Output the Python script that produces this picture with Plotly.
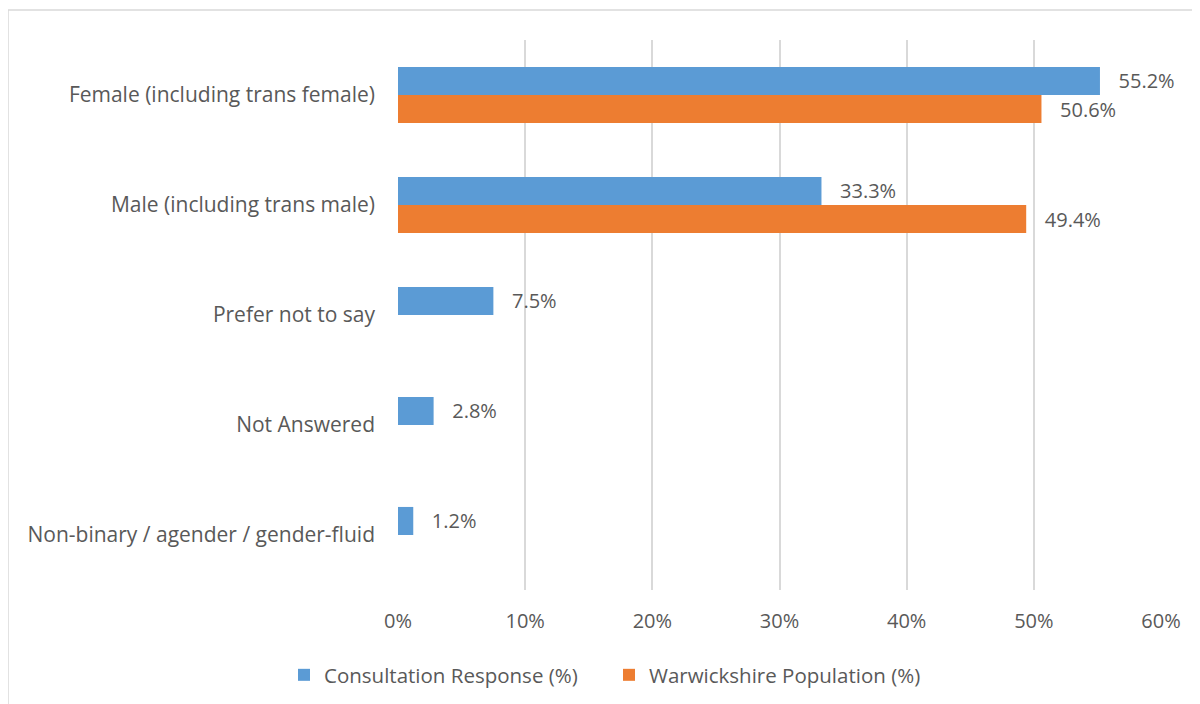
import plotly.graph_objects as go

categories = ["Female (including trans female)", "Male (including trans male)",
              "Prefer not to say", "Not Answered", "Non-binary / agender / gender-fluid"]
consultation = [55.2, 33.3, 7.5, 2.8, 1.2]
population = [50.6, 49.4, None, None, None]
series_names = ["Consultation Response (%)", "Warwickshire Population (%)"]
tick_vals = [0, 10, 20, 30, 40, 50, 60]
tick_text = ["0%", "10%", "20%", "30%", "40%", "50%", "60%"]

FONT = "'Open Sans', sans-serif"
GREY = "#595959"
NB = "\u00a0\u00a0\u00a0"
OFF = 8  # page body margin

fig = go.Figure()
fig.add_trace(go.Bar(
    y=categories, x=consultation, orientation="h", name=series_names[0],
    marker=dict(color="#5b9bd5", line=dict(width=0)),
    text=[f"{NB}{v:.1f}%" for v in consultation], textposition="outside",
    textfont=dict(size=20, color=GREY, family=FONT), cliponaxis=False,
    constraintext="none", hoverinfo="x+y"))
fig.add_trace(go.Bar(
    y=categories, x=population, orientation="h", name=series_names[1],
    marker=dict(color="#ed7d31", line=dict(width=0)),
    text=[f"{NB}{v:.1f}%" if v is not None else "" for v in population], textposition="outside",
    textfont=dict(size=20, color=GREY, family=FONT), cliponaxis=False,
    constraintext="none", hoverinfo="x+y"))

W, H = 1200, 704
plot_l, plot_r, plot_t, plot_b = 398 - OFF, 1161 - OFF, 40 - OFF, 590 - OFF
pw, ph = plot_r - plot_l, plot_b - plot_t

def px_x(x):
    return (x - OFF - plot_l) / pw

def px_y(y):
    return (plot_b - (y - OFF)) / ph

fig.update_layout(
    width=W, height=H,
    margin=dict(l=plot_l, r=W - plot_r, t=plot_t, b=H - plot_b, autoexpand=False),
    paper_bgcolor="white", plot_bgcolor="white",
    barmode="group", bargap=0.49, bargroupgap=0,
    font=dict(family=FONT, color=GREY, size=20),
    xaxis=dict(range=[0, 60], tickvals=tick_vals, ticktext=tick_text,
               showgrid=True, gridcolor="#d9d9d9", gridwidth=1.5,
               zeroline=False, showline=False, ticks="",
               tickfont=dict(size=20, color=GREY), ticklabelstandoff=17),
    yaxis=dict(autorange="reversed", showgrid=False, showline=False, ticks="",
               tickfont=dict(size=21, color=GREY), ticklabelstandoff=22),
    legend=dict(orientation="h", x=px_x(284), xanchor="left", y=px_y(675), yanchor="middle",
                font=dict(size=20.5, color=GREY), itemwidth=30, traceorder="normal",
                entrywidth=280, entrywidthmode="pixels"),
    showlegend=True,
    shapes=[dict(type="rect", xref="paper", yref="paper",
                 x0=px_x(8), x1=px_x(1230), y0=px_y(740), y1=px_y(10),
                 line=dict(color="#d9d9d9", width=1.5), fillcolor="rgba(0,0,0,0)", layer="below")],
)

fig.write_html("out.html")
